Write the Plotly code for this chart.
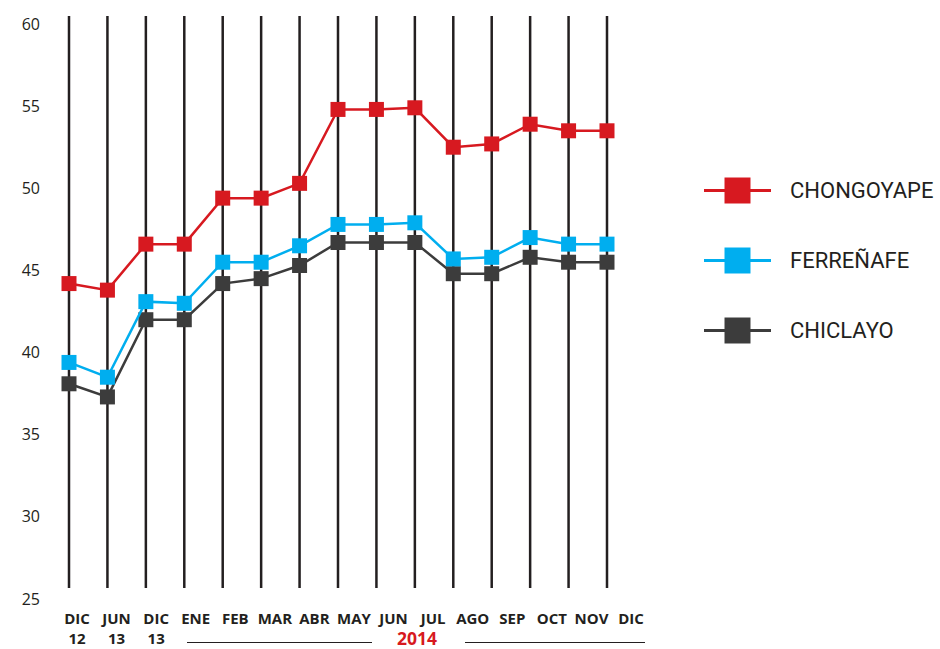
import plotly.graph_objects as go

# ---------------- data ----------------
categories = ["DIC 12", "JUN 13", "DIC 13", "ENE", "FEB", "MAR", "ABR", "MAY",
              "JUN", "JUL", "AGO", "SEP", "OCT", "NOV", "DIC"]
tick_labels = ["DIC<br>12", "JUN<br>13", "DIC<br>13", "ENE", "FEB", "MAR", "ABR", "MAY",
               "JUN", "JUL", "AGO", "SEP", "OCT", "NOV", "DIC"]
chongoyape = [44.2, 43.8, 46.6, 46.6, 49.4, 49.4, 50.3, 54.8, 54.8, 54.9, 52.5, 52.7, 53.9, 53.5, 53.5]
ferrenafe = [39.4, 38.5, 43.1, 43.0, 45.5, 45.5, 46.5, 47.8, 47.8, 47.9, 45.7, 45.8, 47.0, 46.6, 46.6]
chiclayo = [38.1, 37.3, 42.0, 42.0, 44.2, 44.5, 45.3, 46.7, 46.7, 46.7, 44.8, 44.8, 45.8, 45.5, 45.5]
series_names = ["CHONGOYAPE", "FERREÑAFE", "CHICLAYO"]
series_values = [chongoyape, ferrenafe, chiclayo]
y_ticks = [25, 30, 35, 40, 45, 50, 55, 60]
year_label = "2014"

# ---------------- styling / layout constants ----------------
W, H = 940, 649
colors = ["#d71920", "#00aeef", "#3c3c3c"]
ink = "#231f20"

PLOT_L, PLOT_R = 50, 660          # plot area in px
X0_PX, XN_PX = 69, 607            # first / last category line
LBL0_PX, LBLN_PX = 77, 631        # first / last label centre
Y_BOT_PX, Y_TOP_VAL_PX = 599, 24  # px of value 25 and 60
n = len(categories)
ppu_x = (XN_PX - X0_PX) / (n - 1)
ppu_lbl = (LBLN_PX - LBL0_PX) / (n - 1)
ppu_y = (Y_BOT_PX - Y_TOP_VAL_PX) / (60 - 25)

x_range = [(PLOT_L - X0_PX) / ppu_x, (PLOT_R - X0_PX) / ppu_x]
x2_range = [(PLOT_L - LBL0_PX) / ppu_lbl, (PLOT_R - LBL0_PX) / ppu_lbl]
y_range = [25, 25 + Y_BOT_PX / ppu_y]
grid_lo = 25 + (Y_BOT_PX - 588) / ppu_y
grid_hi = 25 + (Y_BOT_PX - 16) / ppu_y

def px(xp):
    return xp / W

def py(yp):
    return 1 - yp / H

fig = go.Figure()

# vertical category lines
gx, gy = [], []
for i in range(n):
    gx += [i, i, None]
    gy += [grid_lo, grid_hi, None]
fig.add_trace(go.Scatter(x=gx, y=gy, mode="lines", line=dict(color=ink, width=2.5),
                         hoverinfo="skip", showlegend=False))

# data series (draw bottom first so red is on top)
for name, vals, col in reversed(list(zip(series_names, series_values, colors))):
    fig.add_trace(go.Scatter(x=list(range(n)), y=vals, mode="lines+markers", name=name,
                             line=dict(color=col, width=2.5),
                             marker=dict(symbol="square", size=15, color=col, opacity=1),
                             showlegend=False))

# manual legend on its own small pixel-scaled subplot
LEG_L, LEG_T, LEG_B = 690, 150, 370
LEG_X0, LEG_X1, LEG_TXT = 704, 771, 788
LEG_ROWS = [190.5, 260.5, 330.5]
for name, col, ry in zip(series_names, colors, LEG_ROWS):
    fig.add_trace(go.Scatter(x=[LEG_X0, LEG_X1], y=[ry, ry], mode="lines",
                             xaxis="x3", yaxis="y3", line=dict(color=col, width=3),
                             hoverinfo="skip", showlegend=False))
    fig.add_trace(go.Scatter(x=[(LEG_X0 + LEG_X1) / 2], y=[ry], mode="markers",
                             xaxis="x3", yaxis="y3",
                             marker=dict(symbol="square", size=26, color=col, opacity=1,
                                         line=dict(width=0)),
                             hoverinfo="skip", showlegend=False))
    fig.add_annotation(x=LEG_TXT, y=ry, xref="x3", yref="y3", text=name, showarrow=False,
                       xanchor="left", yanchor="middle",
                       font=dict(family="Roboto", size=22, color=ink))

# dummy trace for label axis
fig.add_trace(go.Scatter(x=[0], y=[None], xaxis="x2", showlegend=False, hoverinfo="skip"))

# year label and rules
fig.add_annotation(x=px(417), y=py(637.5), xref="paper", yref="paper", text=f"<b>{year_label}</b>",
                   showarrow=False, xanchor="center", yanchor="middle", borderpad=0,
                   font=dict(family="Open Sans", size=17.5, color=colors[0]))
for a, b in [(187, 372), (465, 645)]:
    fig.add_shape(type="line", xref="paper", yref="paper", x0=px(a), x1=px(b),
                  y0=py(642.5), y1=py(642.5), line=dict(color=ink, width=1.2))

fig.update_layout(
    width=W, height=H, margin=dict(l=0, r=0, t=0, b=0, autoexpand=False),
    paper_bgcolor="white", plot_bgcolor="rgba(0,0,0,0)", showlegend=False,
    xaxis=dict(domain=[px(PLOT_L), px(PLOT_R)], range=x_range, showgrid=False,
               zeroline=False, showticklabels=False, showline=False, ticks=""),
    xaxis2=dict(domain=[px(PLOT_L), px(PLOT_R)], range=x2_range, overlaying="x",
                anchor="y", side="bottom", tickmode="array", tickvals=list(range(n)),
                ticktext=[f"<b>{t}</b>" for t in tick_labels], showgrid=False, zeroline=False,
                showline=False, ticks="", ticklabelstandoff=9,
                tickfont=dict(family="Open Sans", size=15, color=ink)),
    yaxis=dict(domain=[py(Y_BOT_PX), 1], range=y_range, tickmode="array", tickvals=y_ticks,
               showgrid=False, zeroline=False, showline=False, ticks="", ticklabelstandoff=9,
               tickfont=dict(family="Open Sans", size=16, color=ink)),
    xaxis3=dict(domain=[px(LEG_L), 1], range=[LEG_L, W], visible=False, anchor="y3"),
    yaxis3=dict(domain=[py(LEG_B), py(LEG_T)], range=[LEG_B, LEG_T], visible=False, anchor="x3"),
)

fig.write_html("out.html", config={"displayModeBar": False},
               post_script="document.body.style.margin='0';document.body.style.overflow='hidden';")
